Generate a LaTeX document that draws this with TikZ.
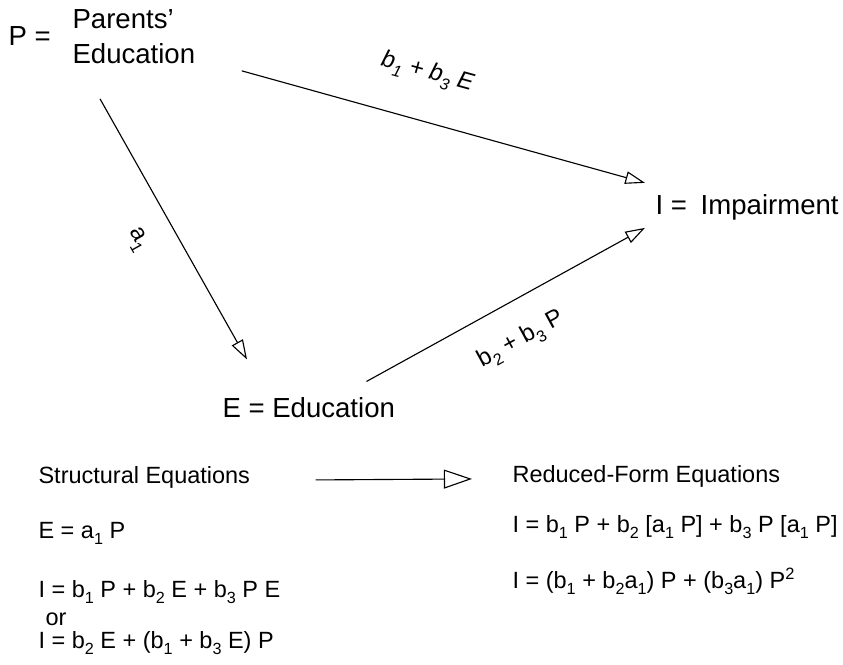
\documentclass[tikz,border=0pt]{standalone}
\usepackage{fontspec}
\setmainfont{Liberation Sans}
\usepackage{tikz}
\usetikzlibrary{arrows.meta}
\newcommand{\sbs}[1]{\raisebox{-0.55ex}{\fontsize{11.5}{12}\selectfont #1}}

\begin{document}
\begin{tikzpicture}[
    x=0.025cm, y=-0.025cm,
    line width=0.8pt,
    >={Triangle[open,length=14pt,width=9pt]},
    every node/.style={inner sep=0pt},
    varname/.style={font=\fontsize{19.6}{24}\selectfont, anchor=base west},
    eq/.style={font=\fontsize{16.7}{20}\selectfont, anchor=base west},
    coef/.style={font=\fontsize{17}{20}\selectfont}
]
\useasboundingbox (0,0) rectangle (843,665);
%====================================================
% VARIABLES
%====================================================
\node[varname] (Plbl) at (8,45) {P =};
\node[varname] (parents) at (72,28) {Parents’};
\node[varname] (Pedu) at (72,63) {Education};
\node[varname] (Iimp) at (655,214) {I =\hspace{0.5em}Impairment};
\node[varname] (Eedu) at (222,417) {E = Education};

%====================================================
% PATHS
%====================================================
\draw[->] ([shift={(46,7)}]Pedu.south east) -- ([shift={(-10,-24)}]Iimp.west);
\draw[->] ([shift={(28,35)}]Pedu.south west) -- ([shift={(25,-37)}]Eedu.north west);
\draw[->] ([shift={(-29,-15)}]Eedu.north east) -- ([shift={(-10,21)}]Iimp.west);

\node[coef, rotate=-15.5] (cPI) at (427,73) {\itshape b\sbs{1} + b\sbs{3} E};
\node[coef, rotate=-61] (cPE) at (137,240) {a\sbs{1}};
\node[coef, rotate=28.6] (cEI) at (521,340) {b\sbs{2} + b\sbs{3} P};

%====================================================
% EQUATIONS
%====================================================
\node[eq] (struct) at (38,483) {Structural Equations};
\node[eq] (reduced) at (512,482) {Reduced-Form Equations};
\draw[-{Triangle[open,length=20pt,width=13.5pt]}] ([shift={(65,3)}]struct.east) -- ([shift={(-40,3)}]reduced.west);

\node[eq] (sE) at (38,538) {E = a\sbs{1} P};
\node[eq] (sI) at (38,597) {I = b\sbs{1} P + b\sbs{2} E + b\sbs{3} P E};
\node[eq] (sOr) at (45,625) {or};
\node[eq] (sIalt) at (38,648) {I = b\sbs{2} E + (b\sbs{1} + b\sbs{3} E) P};

\node[eq] (rI) at (512,532) {I = b\sbs{1} P + b\sbs{2} [a\sbs{1} P] + b\sbs{3} P [a\sbs{1} P]};
\node[eq] (rIsq) at (512,588) {I = (b\sbs{1} + b\sbs{2}a\sbs{1}) P + (b\sbs{3}a\sbs{1}) P\textsuperscript{2}};
\end{tikzpicture}
\end{document}
